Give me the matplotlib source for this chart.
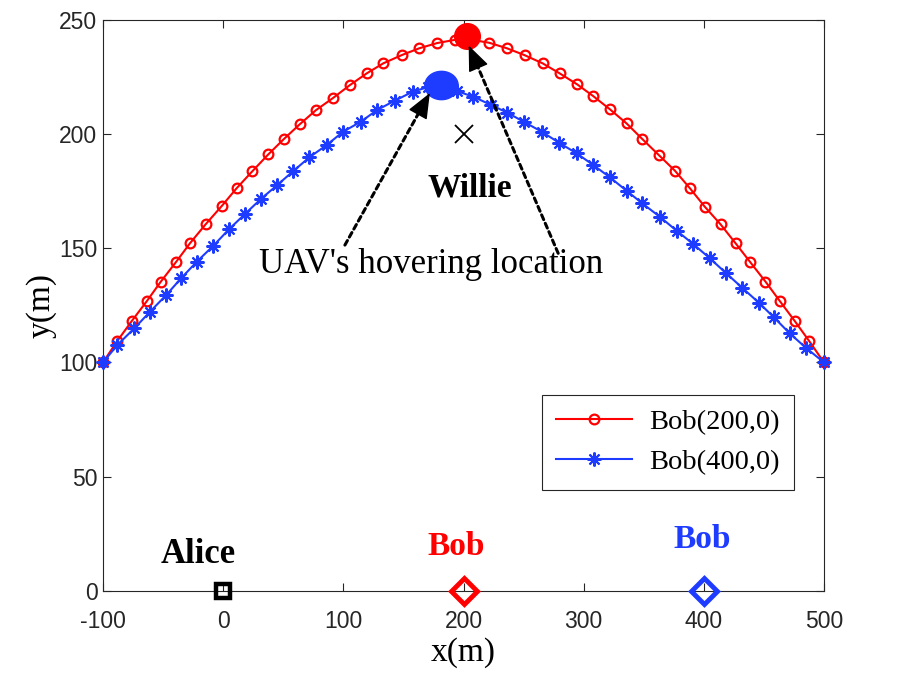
import matplotlib
matplotlib.use("Agg")
import matplotlib.pyplot as plt
import numpy as np
from matplotlib.path import Path

# ---------------- data ----------------
red_x = [-100, -88.1, -76.1, -63.6, -52.0, -39.5, -27.6, -14.6, -1.2, 11.2, 24.2, 37.5,
         50.6, 63.9, 77.2, 91.6, 105.5, 119.4, 133.2, 148.5, 163.1, 178.1, 192.8, 207.2,
         221.6, 236.2, 250.8, 265.9, 280.1, 294.6, 308.1, 321.8, 335.7, 348.7, 362.6,
         375.9, 388.4, 400.8, 413.9, 426.4, 438.8, 451.3, 463.2, 475.7, 487.6, 500]
red_y = [100, 109.4, 118.1, 126.8, 135.3, 143.8, 152.2, 160.5, 168.5, 176.3, 183.7, 191.1,
         197.9, 204.4, 210.5, 215.9, 221.5, 226.6, 231.0, 234.6, 237.6, 239.9, 241.3, 241.3,
         240.0, 237.6, 234.6, 231.0, 226.6, 221.8, 216.6, 210.9, 204.7, 197.9, 190.8,
         184.0, 176.3, 168.2, 160.5, 152.2, 143.8, 135.4, 126.9, 118.1, 109.4, 100]

blue_x = [-100, -88.1, -74.0, -60.9, -47.6, -35.1, -22.0, -8.2, 4.8, 18.1, 31.4, 45.0,
          58.3, 71.6, 86.1, 99.9, 114.4, 128.2, 142.6, 157.8, 170.5, 182.5, 194.8, 208.1,
          222.5, 236.4, 250.2, 265.0, 279.6, 294.1, 307.9, 321.8, 335.7, 348.7, 363.4,
          377.3, 391.1, 405.0, 418.1, 431.9, 445.7, 458.2, 471.5, 485.4, 500]
blue_y = [100, 107.6, 114.9, 122.2, 129.4, 136.8, 144.1, 151.1, 158.3, 165.0, 171.6, 177.7,
          183.8, 189.8, 195.2, 201.1, 205.4, 210.6, 214.6, 218.6, 220.6, 220.9, 218.8, 216.4,
          212.9, 209.4, 205.4, 201.1, 196.2, 191.6, 186.5, 181.1, 175.2, 169.7, 163.8,
          157.7, 151.9, 145.6, 139.3, 132.7, 126.2, 119.8, 112.7, 106.2, 100]

series_labels = ["Bob(200,0)", "Bob(400,0)"]

alice = (0, 0)
bob_red = (200, 0)
bob_blue = (400, 0)
willie = (200, 200)
hover_red = (203, 243)
hover_blue = (181, 221.5)

# annotation arrows: (start, tip)
arrow_blue = ((101.3, 151.4), (172, 218))
arrow_red = ((278.8, 147.8), (204.3, 238.8))

x_ticks = [-100, 0, 100, 200, 300, 400, 500]
y_ticks = [0, 50, 100, 150, 200, 250]

RED = "#FF0000"
BLUE = "#1E3CFF"
AXC = "#262626"
SERIF = ["Liberation Serif", "DejaVu Serif"]
SANS = ["Liberation Sans", "DejaVu Sans"]

fig = plt.figure(figsize=(9, 6.76), dpi=100)
ax = fig.add_axes([103 / 900, 1 - 590.7 / 676, (824 - 103) / 900, (590.7 - 20) / 676])

ax.plot(red_x, red_y, color=RED, lw=1.5, marker="o", ms=7, mfc="none", mew=1.6,
        label=series_labels[0], clip_on=False, zorder=3)
ax.plot(blue_x, blue_y, color=BLUE, lw=1.5, marker=(8, 2, 0), ms=10, mew=1.5,
        label=series_labels[1], clip_on=False, zorder=3)

# hovering locations
ax.plot([hover_red[0]], [hover_red[1]], marker="o", ms=18.5, color=RED, mec=RED,
        clip_on=False, zorder=5)
t = np.linspace(0, 2 * np.pi, 60)
ell = Path(np.column_stack([np.cos(t), 0.85 * np.sin(t)]), closed=True)
ax.plot([hover_blue[0]], [hover_blue[1]], marker=ell, ms=24, color=BLUE, mec=BLUE,
        clip_on=False, zorder=5)

# nodes
ax.plot([alice[0]], [alice[1]], marker="s", ms=10.5, mfc="none", mec="black", mew=3.2,
        clip_on=False, zorder=4)
ax.plot([bob_red[0]], [bob_red[1]], marker="D", ms=13, mfc="none", mec=RED, mew=3.5,
        clip_on=False, zorder=4)
ax.plot([bob_blue[0]], [bob_blue[1]], marker="D", ms=13, mfc="none", mec=BLUE, mew=3.5,
        clip_on=False, zorder=4)
ax.plot([willie[0]], [willie[1]], marker="x", ms=13, color="black", mew=1.3, zorder=4)

ax.text(-21, 12, "Alice", family=SERIF, fontweight="bold", fontsize=25, ha="center",
        va="baseline", color="black")
ax.text(194, 15.6, "Bob", family=SERIF, fontweight="bold", fontsize=24, ha="center",
        va="baseline", color=RED)
ax.text(399, 18.6, "Bob", family=SERIF, fontweight="bold", fontsize=24, ha="center",
        va="baseline", color=BLUE)
ax.text(205.4, 172.6, "Willie", family=SERIF, fontweight="bold", fontsize=24,
        ha="center", va="baseline", color="black")
ax.text(173.4, 139.0, "UAV's hovering location", family=SERIF, fontsize=25,
        ha="center", va="baseline", color="black")

for (start, tip) in (arrow_blue, arrow_red):
    ax.annotate("", xy=tip, xytext=start, zorder=6,
                arrowprops=dict(arrowstyle="-", color="black", lw=2.2,
                                linestyle=(0, (1.7, 1.3)), shrinkA=0, shrinkB=8))
    near = (tip[0] + 0.02 * (start[0] - tip[0]), tip[1] + 0.02 * (start[1] - tip[1]))
    ax.annotate("", xy=tip, xytext=near, zorder=7,
                arrowprops=dict(arrowstyle="-|>,head_length=0.8,head_width=0.33",
                                color="black", lw=1, shrinkA=0, shrinkB=0,
                                mutation_scale=20))

ax.set_xlim(-100, 500)
ax.set_ylim(0, 250)
ax.set_xticks(x_ticks)
ax.set_yticks(y_ticks)
ax.set_xticklabels([str(v) for v in x_ticks], family=SANS)
ax.set_yticklabels([str(v) for v in y_ticks], family=SANS)
ax.tick_params(direction="in", length=6, width=0.8, colors=AXC, labelsize=16.5,
               top=True, right=True)
ax.tick_params(axis="x", pad=14)
ax.tick_params(axis="y", pad=4)
for s in ax.spines.values():
    s.set_color(AXC)
    s.set_linewidth(0.8)

ax.set_xlabel("x(m)", family=SERIF, fontsize=24, labelpad=3, color="black")
ax.set_ylabel("y(m)", family=SERIF, fontsize=24, labelpad=2, color="black")

leg = ax.legend(loc="upper right", bbox_to_anchor=(0.958, 0.343),
                prop=dict(family=SERIF, size=20.5),
                frameon=True, fancybox=False, framealpha=1, edgecolor=AXC,
                handlelength=2.67, handletextpad=0.59, borderpad=0.5, labelspacing=0.5,
                borderaxespad=0)
leg.get_frame().set_linewidth(0.8)

fig.savefig("out.png", dpi=100)
